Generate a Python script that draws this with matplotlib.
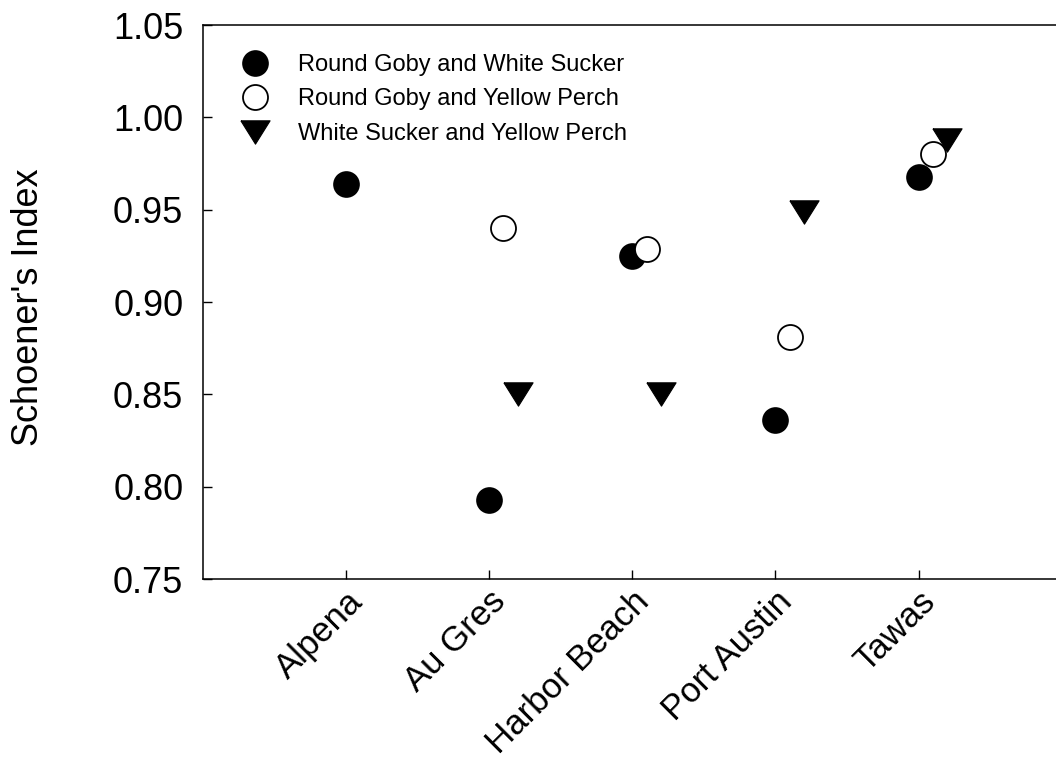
import numpy as np
import matplotlib
matplotlib.use("Agg")
import matplotlib.pyplot as plt

plt.rcParams['font.family'] = ['Liberation Sans', 'DejaVu Sans']

# --- dados ---
sites = ["Alpena", "Au Gres", "Harbor Beach", "Port Austin", "Tawas"]
goby_sucker = [0.964, 0.793, 0.925, 0.836, 0.968]
goby_perch = [np.nan, 0.940, 0.929, 0.881, 0.980]
sucker_perch = [np.nan, 0.850, 0.850, 0.949, 0.988]

x = np.arange(len(sites))

fig = plt.figure(figsize=(10.56, 7.6), dpi=100)
ax = fig.add_axes([0.192, 0.238, 0.808, 0.729])

# triangulo achatado (mais largo que alto)
tri = [(-1, 0.8), (1, 0.8), (0, -0.8), (-1, 0.8)]

ax.plot(x, goby_sucker, ls='none', marker='o', ms=18, mfc='black', mec='black', mew=1.2,
        label='Round Goby and White Sucker', zorder=3)
ax.plot(x + 0.1, goby_perch, ls='none', marker='o', ms=18, mfc='white', mec='black', mew=1.3,
        label='Round Goby and Yellow Perch', zorder=4)
ax.plot(x + 0.2, sucker_perch, ls='none', marker=tri, ms=21, mfc='black', mec='black', mew=0.8,
        label='White Sucker and Yellow Perch', zorder=5)

ax.set_xlim(-1.0, 4.96)
ax.set_ylim(0.75, 1.05)
ax.set_yticks(np.arange(0.75, 1.051, 0.05))
ax.set_yticklabels([f"{v:.2f}" for v in np.arange(0.75, 1.051, 0.05)])
ax.set_xticks(x)
ax.set_xticklabels(sites, rotation=45, ha='right', rotation_mode='anchor', fontsize=25)

ax.tick_params(axis='both', direction='in', length=6.5, width=1.0)
ax.tick_params(axis='y', pad=14, labelsize=26)
ax.tick_params(axis='x', pad=4)
ax.spines['right'].set_visible(False)
for s in ['left', 'bottom', 'top']:
    ax.spines[s].set_linewidth(1.1)

fig.text(29 / 1056, 1 - 307 / 760, "Schoener's Index", rotation=90, ha='center', va='center', fontsize=26)

ax.legend(loc='upper left', bbox_to_anchor=(0.0478, 0.948), frameon=False, fontsize=17,
          numpoints=1, handlelength=1.0, handletextpad=1.3, labelspacing=0.53,
          borderpad=0, borderaxespad=0)

fig.savefig("out.png", dpi=100)
